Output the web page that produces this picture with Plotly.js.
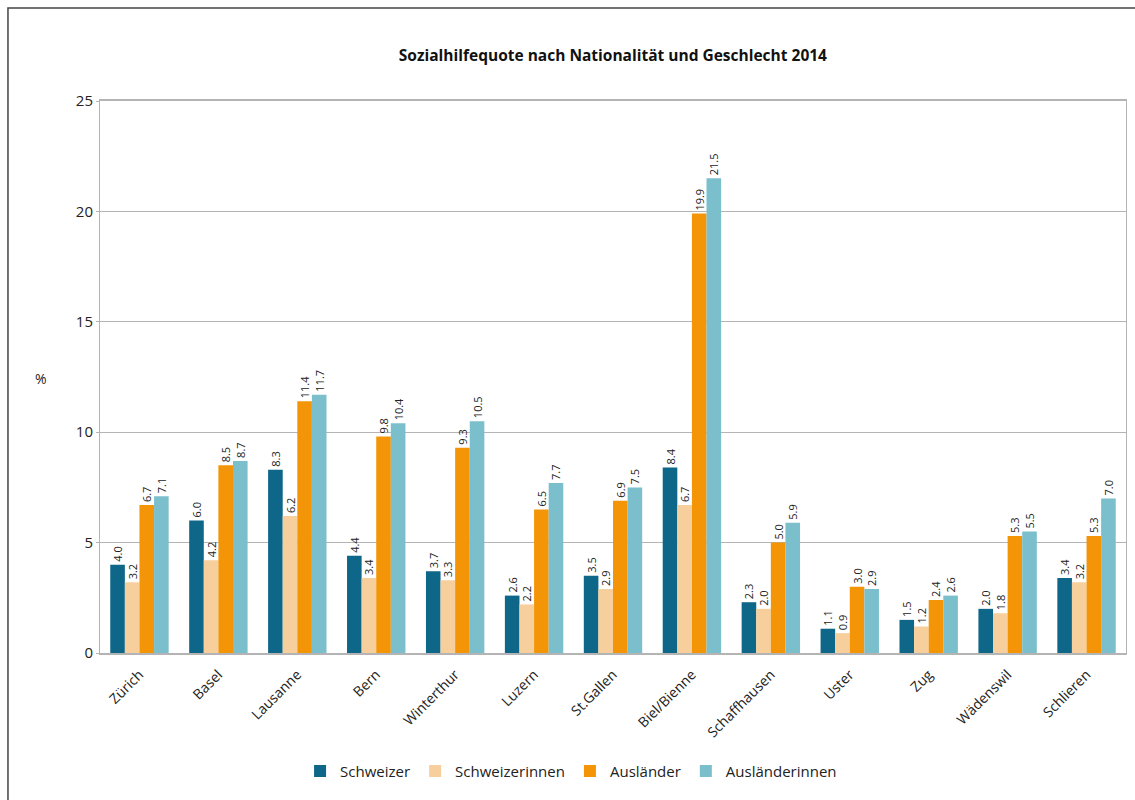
<!DOCTYPE html>
<html>
<head>
<meta charset="utf-8">
<script src="https://cdn.plot.ly/plotly-3.0.1.min.js"></script>
<style>html,body{margin:0;padding:0;background:#fff;}#chart{width:1135px;height:800px;}</style>
</head>
<body>
<div id="chart"></div>
<script>
const categories = ["Zürich","Basel","Lausanne","Bern","Winterthur","Luzern","St.Gallen","Biel/Bienne","Schaffhausen","Uster","Zug","Wädenswil","Schlieren"];
const schweizer      = [4.0, 6.0, 8.3, 4.4, 3.7, 2.6, 3.5, 8.4, 2.3, 1.1, 1.5, 2.0, 3.4];
const schweizerinnen = [3.2, 4.2, 6.2, 3.4, 3.3, 2.2, 2.9, 6.7, 2.0, 0.9, 1.2, 1.8, 3.2];
const auslaender     = [6.7, 8.5, 11.4, 9.8, 9.3, 6.5, 6.9, 19.9, 5.0, 3.0, 2.4, 5.3, 5.3];
const auslaenderinnen= [7.1, 8.7, 11.7, 10.4, 10.5, 7.7, 7.5, 21.5, 5.9, 2.9, 2.6, 5.5, 7.0];
const seriesNames = ["Schweizer","Schweizerinnen","Ausländer","Ausländerinnen"];
const yTicks = [0,5,10,15,20,25];

const FONT = "Open Sans, Noto Sans, sans-serif";
const colors = ["#0e6689","#f7cf9c","#f39506","#7bbfcc"];
const seriesData = [schweizer, schweizerinnen, auslaender, auslaenderinnen];

const traces = seriesData.map((vals, i) => ({
  type: "bar",
  name: seriesNames[i],
  x: categories,
  y: vals,
  marker: {color: colors[i]},
  text: vals.map(v => v.toFixed(1)),
  textposition: "outside",
  textangle: -90,
  cliponaxis: false,
  textfont: {family: FONT, size: 11, color: "#222"},
  hoverinfo: "x+y+name"
}));

const layout = {
  width: 1135, height: 800,
  margin: {l: 100, r: 9, t: 101, b: 147},
  paper_bgcolor: "#fff", plot_bgcolor: "#fff",
  font: {family: FONT, color: "#222"},
  uniformtext: {minsize: 11, mode: "show"},
  title: {text: "<b>Sozialhilfequote nach Nationalität und Geschlecht 2014</b>", font: {family: FONT, size: 15.5, color: "#111"}, x: 0.54, xanchor: "center", y: 0.93, yanchor: "middle"},
  barmode: "group",
  bargap: 0.26,
  bargroupgap: 0,
  xaxis: {
    type: "category",
    tickangle: -45,
    tickfont: {family: FONT, size: 14, color: "#222"},
    ticklabelstandoff: 6,
    showline: true, linecolor: "#b4b4b4", linewidth: 2, mirror: true,
    showgrid: false, ticks: "", automargin: false
  },
  yaxis: {
    range: [0, 25],
    tickvals: yTicks,
    ticktext: yTicks.map(String),
    tickfont: {family: FONT, size: 15, color: "#222"},
    showgrid: true, gridcolor: "#b4b4b4", gridwidth: 1,
    showline: true, linecolor: "#b4b4b4", linewidth: 1, mirror: true,
    ticks: "outside", ticklen: 3, tickcolor: "#b4b4b4",
    zeroline: false, automargin: false
  },
  legend: {
    orientation: "h",
    x: 0.195, xanchor: "left",
    y: -0.214, yanchor: "middle",
    font: {family: FONT, size: 15, color: "#222"},
    traceorder: "normal",
    itemclick: false
  },
  annotations: [{
    text: "%", xref: "paper", yref: "paper", x: -0.065, y: 0.498,
    showarrow: false, font: {family: FONT, size: 14, color: "#222"}
  }],
  shapes: [{
    type: "rect", xref: "paper", yref: "paper",
    x0: -0.0897, x1: 1.05, y0: -0.5, y1: 1.1685,
    line: {color: "#444", width: 1.5}, fillcolor: "rgba(0,0,0,0)", layer: "below"
  }]
};

Plotly.newPlot("chart", traces, layout, {displayModeBar: false, staticPlot: true});
</script>
</body>
</html>
